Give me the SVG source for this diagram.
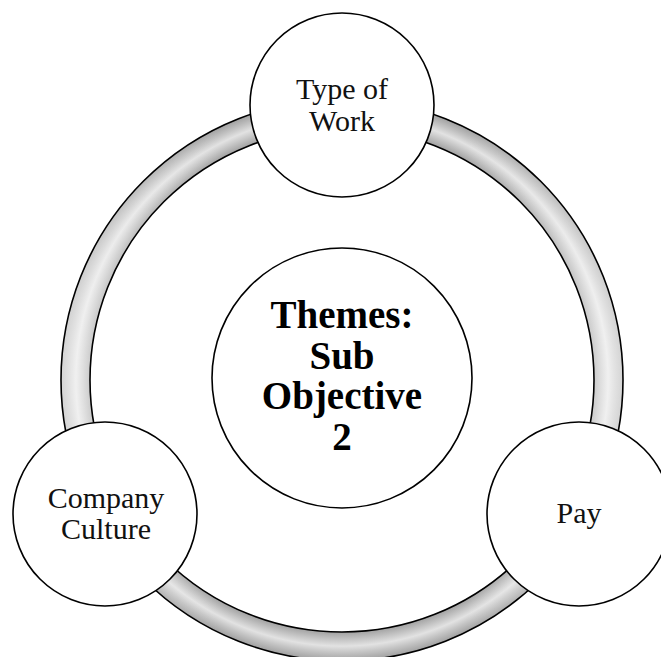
<svg xmlns="http://www.w3.org/2000/svg" width="661" height="657" viewBox="0 0 661 657">
  <defs>
    <!-- tube shading across the width of the ring -->
    <radialGradient id="tube" gradientUnits="userSpaceOnUse" cx="342" cy="380" r="281">
      <stop offset="0.897" stop-color="#a2a2a2"/>
      <stop offset="0.925" stop-color="#c6c6c6"/>
      <stop offset="0.947" stop-color="#e2e2e2"/>
      <stop offset="0.970" stop-color="#c4c4c4"/>
      <stop offset="1" stop-color="#a0a0a0"/>
    </radialGradient>
    <!-- extra light on the left and right flanks of the ring -->
    <linearGradient id="flank" gradientUnits="userSpaceOnUse" x1="61" y1="0" x2="623" y2="0">
      <stop offset="0" stop-color="#ffffff" stop-opacity="0.55"/>
      <stop offset="0.28" stop-color="#ffffff" stop-opacity="0"/>
      <stop offset="0.72" stop-color="#ffffff" stop-opacity="0"/>
      <stop offset="1" stop-color="#ffffff" stop-opacity="0.55"/>
    </linearGradient>
    <style>
      .node { fill: #ffffff; stroke: #000000; stroke-width: 1.6; }
      .ring-edge { fill: none; stroke: #000000; stroke-width: 1.6; }
      .label { font-family: "Liberation Serif", "Times New Roman", serif; font-size: 30px; fill: #111111; text-anchor: middle; }
      .title { font-family: "Liberation Serif", "Times New Roman", serif; font-size: 39px; font-weight: bold; fill: #000000; text-anchor: middle; }
    </style>
  </defs>

  <rect x="0" y="0" width="661" height="657" fill="#ffffff"/>

  <!-- cycle ring linking the three themes -->
  <g id="connectors">
    <path d="M 61 380 A 281 281 0 1 0 623 380 A 281 281 0 1 0 61 380 Z M 90 380 A 252 252 0 1 1 594 380 A 252 252 0 1 1 90 380 Z" fill="url(#tube)" fill-rule="evenodd"/>
    <path d="M 61 380 A 281 281 0 1 0 623 380 A 281 281 0 1 0 61 380 Z M 90 380 A 252 252 0 1 1 594 380 A 252 252 0 1 1 90 380 Z" fill="url(#flank)" fill-rule="evenodd"/>
    <circle class="ring-edge" cx="342" cy="380" r="281"/>
    <circle class="ring-edge" cx="342" cy="380" r="252"/>
  </g>

  <g id="center">
    <circle class="node" cx="342" cy="378" r="130"/>
    <text class="title" x="342" y="328">Themes:</text>
    <text class="title" x="342" y="369">Sub</text>
    <text class="title" x="342" y="409">Objective</text>
    <text class="title" x="342" y="450">2</text>
  </g>

  <g id="type-of-work">
    <circle class="node" cx="342" cy="105" r="92"/>
    <text class="label" x="342" y="99">Type of</text>
    <text class="label" x="342" y="131">Work</text>
  </g>

  <g id="company-culture">
    <circle class="node" cx="105" cy="514" r="92"/>
    <text class="label" x="106" y="508">Company</text>
    <text class="label" x="106" y="539">Culture</text>
  </g>

  <g id="pay">
    <circle class="node" cx="579" cy="514" r="92"/>
    <text class="label" x="579" y="523">Pay</text>
  </g>
</svg>
